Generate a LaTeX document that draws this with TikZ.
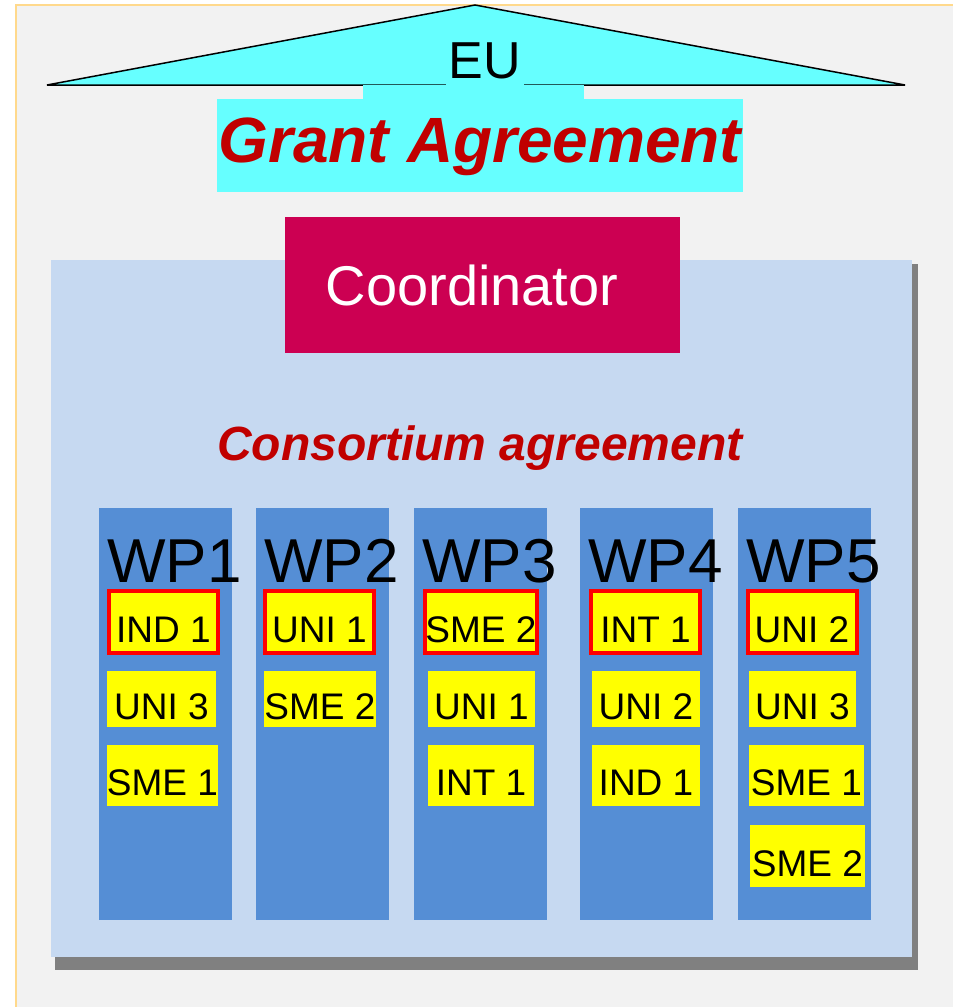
\documentclass[tikz,border=0pt]{standalone}
\usepackage{fontspec}
\setmainfont{Liberation Sans}
\definecolor{slidegray}{HTML}{F2F2F2}
\definecolor{slideedge}{HTML}{FFD98C}
\definecolor{eucyan}{HTML}{66FFFF}
\definecolor{agreered}{HTML}{C00000}
\definecolor{coordred}{HTML}{CC0052}
\definecolor{consblue}{HTML}{C6D9F1}
\definecolor{shadowgray}{HTML}{808080}
\definecolor{wpblue}{HTML}{558ED5}
\definecolor{partneryellow}{HTML}{FFFF00}
\definecolor{leaderred}{HTML}{FF0000}

\begin{document}
\begin{tikzpicture}[x=1pt,y=-1pt,line join=miter,
	eulabel/.style={fill=eucyan,inner xsep=3pt,inner ysep=9pt,text depth=0pt,font=\fontsize{52}{54}\selectfont},
	grantbox/.style={fill=eucyan,inner sep=0pt,minimum width=526pt,minimum height=93pt,text height=33pt,text depth=0pt,text=agreered,font=\fontsize{64}{66}\selectfont\bfseries\itshape},
	coordbox/.style={fill=coordred,inner sep=0pt,minimum width=395pt,minimum height=136pt},
	coordtext/.style={inner sep=0pt,text=white,font=\fontsize{56}{58}\selectfont},
	agreetext/.style={inner sep=0pt,text=agreered,font=\fontsize{48}{50}\selectfont\bfseries\itshape},
	wpcol/.style={fill=wpblue,inner sep=0pt,outer sep=0pt,minimum width=133pt,minimum height=412pt},
	wptext/.style={inner sep=0pt,font=\fontsize{62}{64}\selectfont},
	partner/.style={fill=partneryellow,inner sep=0pt,outer sep=0pt,text height=40pt,text depth=0pt,font=\fontsize{37}{40}\selectfont},
	leader/.style={partner,draw=leaderred,line width=4pt,minimum width=109pt,minimum height=62pt}]
	\useasboundingbox (0,0) rectangle (953,1007);
	% slide
	\fill[white] (0,0) rectangle (953,1007);
	\fill[slidegray] (16,5) rectangle (953,1007);
	\draw[slideedge,line width=2pt] (16,1007) -- (16,5) -- (953,5);
	% EU roof
	\fill[eucyan] (47,85) -- (475,5) -- (905,85) -- cycle;
	\draw[line width=1.5pt] (47,85) -- (475,5) -- (905,85) -- cycle;
	\node[eulabel,anchor=base] (eu) at (485,78) {EU};
	\fill[eucyan] (363,85) rectangle (584,99);
	\node[grantbox] (grant) at (480,145.5) {Grant Agreement};
	% consortium
	\fill[shadowgray] (55,264) rectangle (918,970);
	\fill[consblue] (51,260) rectangle (912,957);
	\node[coordbox] (coord) at (482.5,285) {};
	\node[coordtext,anchor=base] (coordlbl) at (472,305) {Coordinator};
	\node[agreetext,anchor=base] (cons) at (480,460) {Consortium agreement};
	% work packages
	\foreach \x [count=\i] in {99,256,414,580,738}{
		\node[wpcol,anchor=north west] (wp\i) at (\x,508) {};
		\node[wptext,anchor=base west] (wpl\i) at (\x+8,582) {WP\i};
	}
	% leaders
	\node[leader] (ind1a) at (163.5,622) {IND 1};
	\node[leader] (uni1a) at (319.5,622) {UNI 1};
	\node[leader] (sme2a) at (481,622) {SME 2};
	\node[leader] (int1a) at (645.5,622) {INT 1};
	\node[leader] (uni2a) at (802,622) {UNI 2};
	% partners
	\node[partner,minimum width=109pt,minimum height=56pt] (uni3a) at (161.5,699) {UNI 3};
	\node[partner,minimum width=112pt,minimum height=56pt] (sme2b) at (320,699) {SME 2};
	\node[partner,minimum width=107pt,minimum height=56pt] (uni1b) at (481.5,699) {UNI 1};
	\node[partner,minimum width=108pt,minimum height=56pt] (uni2b) at (646,699) {UNI 2};
	\node[partner,minimum width=107pt,minimum height=56pt] (uni3b) at (802.5,699) {UNI 3};
	\node[partner,minimum width=111pt,minimum height=61pt] (sme1a) at (162.5,775.5) {SME 1};
	\node[partner,minimum width=106pt,minimum height=61pt] (int1b) at (481,775.5) {INT 1};
	\node[partner,minimum width=108pt,minimum height=61pt] (ind1b) at (646,775.5) {IND 1};
	\node[partner,minimum width=115pt,minimum height=61pt] (sme1b) at (806.5,775.5) {SME 1};
	\node[partner,minimum width=115pt,minimum height=62pt] (sme2c) at (807.5,856) {SME 2};
\end{tikzpicture}
\end{document}
